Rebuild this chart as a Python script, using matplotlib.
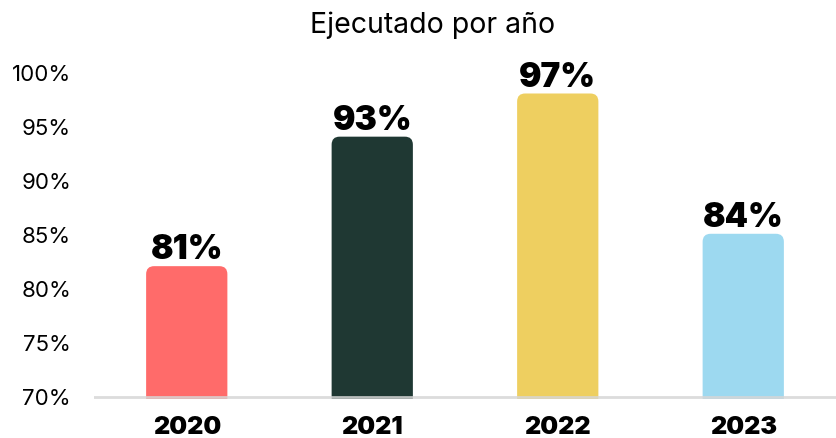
import matplotlib
matplotlib.use("Agg")
import matplotlib.pyplot as plt
from matplotlib.patches import FancyBboxPatch

# ---- data ----
years = ["2020", "2021", "2022", "2023"]
values = [81, 93, 97, 84]
value_labels = ["81%", "93%", "97%", "84%"]
colors = ["#FF6B6A", "#1F3833", "#EECF60", "#9DD9F0"]
yticks = [70, 75, 80, 85, 90, 95, 100]
ytick_labels = ["70%", "75%", "80%", "85%", "90%", "95%", "100%"]
title = "Ejecutado por año"

plt.rcParams["font.family"] = ["Inter", "DejaVu Sans"]

fig = plt.figure(figsize=(8.36, 4.38), dpi=100)
W, H = 836, 438
ax = fig.add_axes([94 / W, (438 - 398.9) / H, 742 / W, 325.9 / H])
ax.set_xlim(-0.5, 3.5)
ax.set_ylim(69.8, 100)

base = 70
aspect = 17.2          # y-units per x-unit so corners look circular
pad = 0.064            # rounded box pad (x-units)
width = 0.31
radius = 0.043
for i, (v, c) in enumerate(zip(values, colors)):
    patch = FancyBboxPatch((i - width / 2, base), width, v - base,
                           boxstyle=f"round,pad={pad},rounding_size={radius}",
                           mutation_aspect=aspect, facecolor=c, edgecolor="none",
                           zorder=2, clip_on=True)
    ax.add_patch(patch)
    ax.annotate(value_labels[i], (i, v + pad * aspect), xytext=(0, 5),
                textcoords="offset points", ha="center", va="baseline",
                fontsize=24, fontweight=900, color="black", clip_on=False)

ax.axhline(70, color="#d6d6d6", lw=2, alpha=0.85, zorder=3)

ax.set_xticks(range(len(years)))
ax.set_xticklabels(years, fontsize=18, fontweight=900)
ax.set_yticks(yticks)
ax.set_yticklabels(ytick_labels, fontsize=16)
ax.tick_params(axis="both", length=0)
ax.tick_params(axis="y", pad=16.5)
ax.tick_params(axis="x", pad=12.5)
for s in ax.spines.values():
    s.set_visible(False)

fig.text(432.5 / W, (438 - 33) / H, title, ha="center", va="baseline", fontsize=20.5)

fig.savefig("out.png", dpi=100)
